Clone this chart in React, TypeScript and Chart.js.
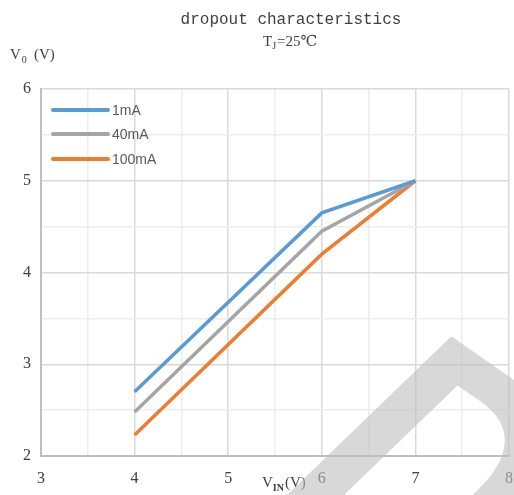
import React, { useEffect, useRef } from "react";
import { Chart, registerables } from "chart.js";

Chart.register(...registerables);

const xValues = [4, 6, 7];
const seriesNames = ["1mA", "40mA", "100mA"];
const vo1mA = [2.7, 4.65, 5.0];
const vo40mA = [2.48, 4.45, 5.0];
const vo100mA = [2.23, 4.2, 5.0];
const seriesColors = ["#5B9BD5", "#A5A5A5", "#ED7D31"];
const titleText = "dropout characteristics";
const xRange = [3, 8];
const yRange = [2, 6];

const serif = "'Liberation Serif', 'DejaVu Serif', serif";

const overlayPlugin = {
  id: "overlay",
  afterDatasetsDraw(chart: any) {
    const { ctx, chartArea } = chart;
    ctx.save();
    const rows = [21, 45, 70];
    chart.data.datasets.forEach((ds: any, i: number) => {
      const y = chartArea.top + rows[i];
      ctx.strokeStyle = ds.borderColor;
      ctx.lineWidth = 4;
      ctx.lineCap = "round";
      ctx.beginPath();
      ctx.moveTo(chartArea.left + 12, y);
      ctx.lineTo(chartArea.left + 67, y);
      ctx.stroke();
      ctx.fillStyle = "#595959";
      ctx.font = "14px 'Liberation Sans', Arial, sans-serif";
      ctx.textAlign = "left";
      ctx.textBaseline = "middle";
      ctx.fillText(ds.label, chartArea.left + 71, y + 1);
    });
    ctx.restore();
  },
  afterDraw(chart: any) {
    const { ctx } = chart;
    ctx.save();
    ctx.fillStyle = "#404040";
    ctx.textBaseline = "middle";
    ctx.textAlign = "center";
    ctx.font = "16px 'Liberation Mono', 'DejaVu Sans Mono', monospace";
    ctx.fillText(titleText, 291, 20);
    ctx.textAlign = "left";
    ctx.font = "15px " + serif;
    let x = 263;
    ctx.fillText("T", x, 42);
    x += ctx.measureText("T").width;
    ctx.font = "10px " + serif;
    ctx.fillText("J", x, 46);
    x += ctx.measureText("J").width + 1;
    ctx.font = "15px " + serif;
    ctx.fillText("=25℃", x, 42);
    x = 10;
    ctx.font = "15px " + serif;
    ctx.fillText("V", x, 55);
    x += ctx.measureText("V").width + 1;
    ctx.font = "10px " + serif;
    ctx.fillText("0", x, 60);
    ctx.font = "15px " + serif;
    ctx.fillText("(V)", 34, 55);
    x = 262;
    ctx.fillText("V", x, 483);
    x += ctx.measureText("V").width;
    ctx.font = "bold 10px " + serif;
    ctx.fillText("IN", x, 488);
    x += ctx.measureText("IN").width + 1;
    ctx.font = "15px " + serif;
    ctx.fillText("(V)", x, 483);
    // watermark letter (slanted, rotated)
    const theta = (35 * Math.PI) / 180;
    const k = Math.tan((11 * Math.PI) / 180);
    const hs = 0.85;
    ctx.font = "bold 330px 'Liberation Sans', Arial, sans-serif";
    ctx.textAlign = "left";
    ctx.textBaseline = "alphabetic";
    const m = ctx.measureText("D");
    const bx = -m.actualBoundingBoxLeft;
    const by = -m.actualBoundingBoxAscent;
    const c = Math.cos(theta);
    const s = Math.sin(theta);
    const sx = bx * hs - k * by;
    const sy = by;
    const px = 454;
    const py = 332;
    const ox = px - (sx * c - sy * s);
    const oy = py - (sx * s + sy * c);
    ctx.translate(ox, oy);
    ctx.rotate(theta);
    ctx.transform(1, 0, -k, 1, 0, 0);
    ctx.scale(hs, 1);
    ctx.fillStyle = "rgba(190,190,190,0.6)";
    ctx.fillText("D", 0, 0);
    ctx.restore();
  },
};

function App() {
  const ref = useRef<HTMLCanvasElement | null>(null);
  useEffect(() => {
    document.body.style.margin = "0";
    const canvas = ref.current!;
    const mk = (vals: number[]) => xValues.map((x, i) => ({ x, y: vals[i] }));
    const all = [vo1mA, vo40mA, vo100mA];
    const gridColor = (c: any) =>
      Number.isInteger(c.tick && c.tick.value) ? "#d9d9d9" : "#ededed";
    const chart = new Chart(canvas, {
      type: "line",
      data: {
        datasets: all.map((vals, i) => ({
          label: seriesNames[i],
          data: mk(vals),
          borderColor: seriesColors[i],
          backgroundColor: seriesColors[i],
          borderWidth: 3.5,
          pointRadius: 0,
          tension: 0,
          fill: false,
        })),
      },
      options: {
        animation: false,
        responsive: false,
        maintainAspectRatio: false,
        layout: { padding: { top: 89, right: 5, left: 0, bottom: 0 } },
        plugins: { legend: { display: false }, tooltip: { enabled: false }, title: { display: false } },
        scales: {
          x: {
            type: "linear",
            min: xRange[0],
            max: xRange[1],
            afterFit: (sc: any) => {
              sc.height = 39;
              sc.paddingLeft = 0;
              sc.paddingRight = 0;
            },
            ticks: {
              stepSize: 0.5,
              autoSkip: false,
              maxRotation: 0,
              padding: 13,
              color: "#404040",
              font: { family: serif, size: 16 },
              callback: (v: any) => (Number.isInteger(v) ? String(v) : ""),
            },
            grid: { color: gridColor, lineWidth: 1.5, drawTicks: false },
            border: { color: "#bfbfbf", width: 2 },
          },
          y: {
            min: yRange[0],
            max: yRange[1],
            afterFit: (sc: any) => {
              sc.width = 41;
              sc.paddingTop = 0;
              sc.paddingBottom = 0;
            },
            ticks: {
              stepSize: 0.5,
              autoSkip: false,
              padding: 10,
              color: "#404040",
              font: { family: serif, size: 16 },
              callback: (v: any) => (Number.isInteger(v) ? String(v) : ""),
            },
            grid: { color: gridColor, lineWidth: 1.5, drawTicks: false },
            border: { color: "#bfbfbf", width: 2 },
          },
        },
      },
      plugins: [overlayPlugin],
    });
    return () => chart.destroy();
  }, []);
  return (
    <div style={{ position: "relative", width: 514, height: 495, background: "#fff" }}>
      <canvas ref={ref} width={514} height={495} style={{ display: "block" }} />
    </div>
  );
}

export default App;
